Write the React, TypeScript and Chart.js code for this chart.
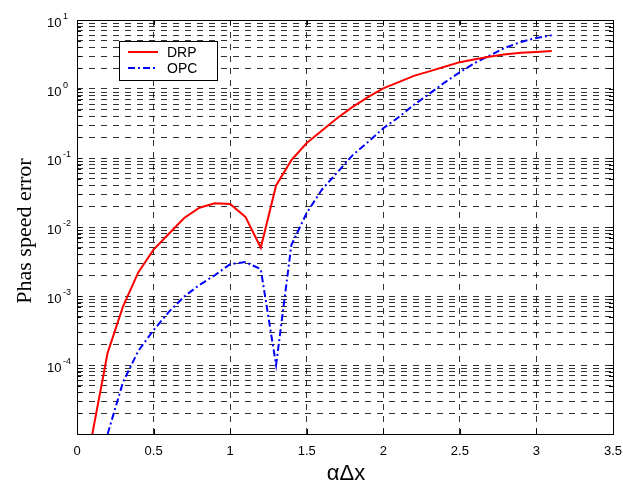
import React, { useEffect, useRef } from "react";
import { Chart, registerables } from "chart.js";

Chart.register(...registerables);

const xDRP = [0.1, 0.2, 0.3, 0.4, 0.5, 0.6, 0.7, 0.8, 0.9, 1.0, 1.1, 1.2, 1.3, 1.4, 1.5, 1.6, 1.7, 1.8, 1.9, 2.0, 2.1, 2.2, 2.3, 2.4, 2.5, 2.6, 2.7, 2.8, 2.9, 3.0, 3.1];
const yDRP = [1.0e-5, 1.5e-4, 7e-4, 2.2e-3, 4.7e-3, 8e-3, 1.35e-2, 1.9e-2, 2.2e-2, 2.15e-2, 1.4e-2, 5e-3, 4e-2, 9.3e-2, 0.165, 0.25, 0.38, 0.55, 0.76, 1.02, 1.26, 1.55, 1.8, 2.1, 2.45, 2.7, 2.95, 3.2, 3.35, 3.45, 3.55];

const xOPC = [0.2, 0.3, 0.4, 0.5, 0.6, 0.7, 0.8, 0.9, 1.0, 1.1, 1.2, 1.3, 1.4, 1.5, 1.6, 1.7, 1.8, 1.9, 2.0, 2.1, 2.2, 2.3, 2.4, 2.5, 2.6, 2.7, 2.8, 2.9, 3.0, 3.1];
const yOPC = [1e-5, 5.6e-5, 1.6e-4, 3.2e-4, 5.9e-4, 9.8e-4, 1.45e-3, 2.0e-3, 2.9e-3, 3.1e-3, 2.45e-3, 1e-4, 5.5e-3, 1.6e-2, 0.035, 0.062, 0.11, 0.17, 0.27, 0.39, 0.59, 0.85, 1.24, 1.75, 2.4, 3.1, 4.0, 4.8, 5.5, 6.0];

const seriesNames = ["DRP", "OPC"];
const xTickLabels = ["0", "0.5", "1", "1.5", "2", "2.5", "3", "3.5"];
const yDecadeExponents = [1, 0, -1, -2, -3, -4];
const yMin = 1e-5;
const yMax = 10;
const xTitle = "αΔx";
const yTitle = "Phas speed error";

const SANS = "'Liberation Sans', Arial, sans-serif";
const SERIF = "'Liberation Serif', 'Times New Roman', serif";

function logTickValues(): number[] {
  const vals: number[] = [];
  for (let e = -5; e <= 0; e++) {
    for (let m = 1; m <= 9; m++) vals.push(Number((m * Math.pow(10, e)).toPrecision(3)));
  }
  vals.push(10);
  return vals;
}

const decorPlugin = {
  id: "matlabDecor",
  afterDraw(chart: any) {
    const ctx = chart.ctx;
    const xs = chart.scales.x;
    const ys = chart.scales.y;
    const a = chart.chartArea;
    ctx.save();
    // box
    ctx.strokeStyle = "#000";
    ctx.lineWidth = 1;
    ctx.setLineDash([]);
    ctx.strokeRect(Math.round(a.left) + 0.5, Math.round(a.top) + 0.5, Math.round(a.right - a.left), Math.round(a.bottom - a.top));
    // tick marks
    ctx.beginPath();
    for (const t of ys.ticks) {
      const py = Math.round(ys.getPixelForValue(t.value)) + 0.5;
      ctx.moveTo(a.left, py); ctx.lineTo(a.left + 4, py);
      ctx.moveTo(a.right, py); ctx.lineTo(a.right - 4, py);
    }
    for (const t of xs.ticks) {
      const px = Math.round(xs.getPixelForValue(t.value)) + 0.5;
      ctx.moveTo(px, a.bottom); ctx.lineTo(px, a.bottom - 5);
      ctx.moveTo(px, a.top); ctx.lineTo(px, a.top + 5);
    }
    ctx.stroke();
    // x tick labels
    ctx.fillStyle = "#000";
    ctx.font = `13px ${SANS}`;
    ctx.textAlign = "center";
    ctx.textBaseline = "alphabetic";
    xTickLabels.forEach((lab) => {
      const px = xs.getPixelForValue(parseFloat(lab));
      ctx.fillText(lab, px, a.bottom + 21);
    });
    // y tick labels with superscript
    yDecadeExponents.forEach((e) => {
      const py = ys.getPixelForValue(Math.pow(10, e));
      ctx.font = `13px ${SANS}`;
      ctx.textAlign = "left";
      const x0 = 47;
      ctx.fillText("10", x0, py + 7);
      const w = ctx.measureText("10").width;
      ctx.font = `9px ${SANS}`;
      ctx.fillText(String(e), x0 + w + 1.5, py - 1.5);
    });
    // axis titles
    ctx.font = `22px ${SANS}`;
    ctx.textAlign = "center";
    ctx.fillText(xTitle, (a.left + a.right) / 2 + 1, 480);
    ctx.save();
    ctx.translate(31, (a.top + a.bottom) / 2 + 4);
    ctx.rotate(-Math.PI / 2);
    ctx.font = `22px ${SERIF}`;
    ctx.textAlign = "center";
    ctx.fillText(yTitle, 0, 0);
    ctx.restore();
    // legend
    const lx = 119.5, ly = 41.5, lw = 98, lh = 39;
    ctx.fillStyle = "#fff";
    ctx.fillRect(lx, ly, lw, lh);
    ctx.strokeStyle = "#000";
    ctx.lineWidth = 1;
    ctx.strokeRect(lx, ly, lw, lh);
    const rows = [
      { y: 52, color: "#ff0000", dash: [] as number[] },
      { y: 68, color: "#0000ff", dash: [7, 3, 2, 3] },
    ];
    rows.forEach((r, i) => {
      ctx.beginPath();
      ctx.strokeStyle = r.color;
      ctx.lineWidth = 2;
      ctx.setLineDash(r.dash);
      ctx.moveTo(128, r.y);
      ctx.lineTo(158, r.y);
      ctx.stroke();
      ctx.setLineDash([]);
      ctx.fillStyle = "#000";
      ctx.font = `14px ${SANS}`;
      ctx.textAlign = "left";
      ctx.textBaseline = "middle";
      ctx.fillText(seriesNames[i], 167, r.y + 1);
    });
    ctx.restore();
  },
};

export default function App() {
  const ref = useRef<HTMLCanvasElement | null>(null);
  useEffect(() => {
    if (!ref.current) return;
    const gridStyle = {
      color: "rgba(0,0,0,0.8)",
      lineWidth: 1,
      drawTicks: false,
    };
    const chart = new Chart(ref.current, {
      type: "line",
      data: {
        datasets: [
          {
            label: seriesNames[0],
            data: xDRP.map((x, i) => ({ x, y: yDRP[i] })),
            borderColor: "#ff0000",
            borderWidth: 2,
            pointRadius: 0,
            tension: 0,
            fill: false,
          },
          {
            label: seriesNames[1],
            data: xOPC.map((x, i) => ({ x, y: yOPC[i] })),
            borderColor: "#0000ff",
            borderWidth: 2,
            borderDash: [7, 3, 2, 3],
            pointRadius: 0,
            tension: 0,
            fill: false,
          },
        ],
      },
      options: {
        animation: false,
        responsive: false,
        devicePixelRatio: 1,
        layout: { padding: { left: 77, top: 20, right: 10, bottom: 50 } },
        plugins: { legend: { display: false }, tooltip: { enabled: false } },
        scales: {
          x: {
            type: "linear",
            min: 0,
            max: 3.5,
            ticks: { display: false, stepSize: 0.5 },
            grid: gridStyle,
            border: { display: false, dash: [6, 6] },
          },
          y: {
            type: "logarithmic",
            min: yMin,
            max: yMax,
            ticks: { display: false, autoSkip: false },
            afterBuildTicks: (scale: any) => {
              scale.ticks = logTickValues().map((v) => ({ value: v }));
            },
            grid: gridStyle,
            border: { display: false, dash: [6, 6] },
          },
        },
      } as any,
      plugins: [decorPlugin],
    });
    return () => chart.destroy();
  }, []);
  return (
    <div style={{ position: "fixed", left: 0, top: 0, width: 623, height: 484, background: "#fff" }}>
      <canvas ref={ref} width={623} height={484} style={{ display: "block" }} />
    </div>
  );
}
